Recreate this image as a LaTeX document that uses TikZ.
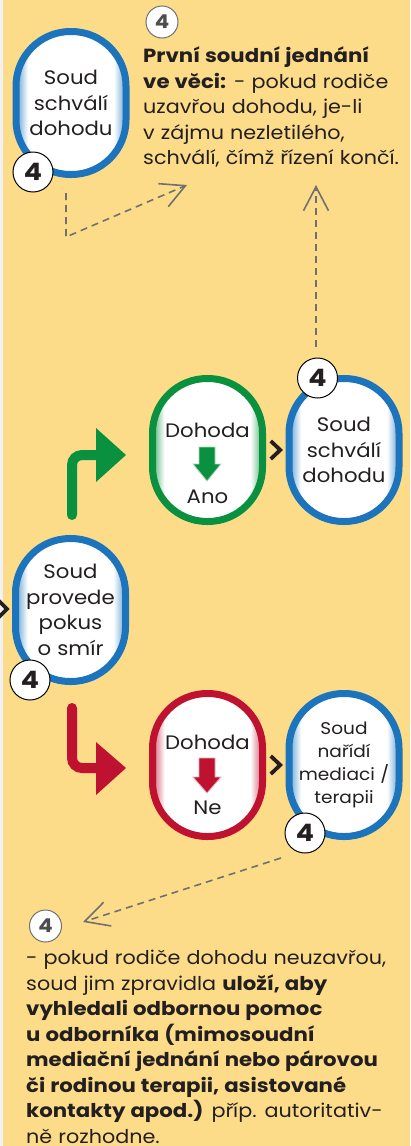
\documentclass[tikz,border=0pt]{standalone}
\usepackage{fontspec}
\setmainfont{Poppins}[FakeStretch=1.09, WordSpace=1.1,
  BoldFeatures={FakeStretch=1.12}]
\usetikzlibrary{arrows.meta,calc}

\definecolor{bgyellow}{HTML}{FDDC89}
\definecolor{strip}{HTML}{F1F1F4}
\definecolor{capblue}{HTML}{1C75BC}
\definecolor{capgreen}{HTML}{0A9140}
\definecolor{capred}{HTML}{BF1230}
\definecolor{ink}{HTML}{231F20}
\definecolor{dashgray}{HTML}{707070}
\definecolor{badgegray}{HTML}{4D4D4D}

% soft inner rim of the capsules: tinted at the sides, white in the middle
\pgfdeclarehorizontalshading{blueedge}{100bp}{color(0bp)=(capblue!50!white); color(26.5bp)=(capblue!50!white); color(30.5bp)=(white); color(69.5bp)=(white); color(73.5bp)=(capblue!50!white); color(100bp)=(capblue!50!white)}
\pgfdeclarehorizontalshading{greenedge}{100bp}{color(0bp)=(capgreen!50!white); color(26.5bp)=(capgreen!50!white); color(30.5bp)=(white); color(69.5bp)=(white); color(73.5bp)=(capgreen!50!white); color(100bp)=(capgreen!50!white)}
\pgfdeclarehorizontalshading{rededge}{100bp}{color(0bp)=(capred!50!white); color(26.5bp)=(capred!50!white); color(30.5bp)=(white); color(69.5bp)=(white); color(73.5bp)=(capred!50!white); color(100bp)=(capred!50!white)}

\begin{document}
\begin{tikzpicture}[x=1pt,y=-1pt,
  capsule/.style={draw=#1, line width=7pt, rounded corners=54.5pt,
    minimum width=110pt, minimum height=143pt, inner sep=0pt,
    align=center, text=ink, font=\fontsize{19.5}{25.5}\selectfont},
  capB/.style={capsule=capblue, shading=blueedge},
  capG/.style={capsule=capgreen, shading=greenedge},
  capR/.style={capsule=capred, shading=rededge},
  captext/.style={text=ink, inner sep=0pt, font=\fontsize{19.5}{25.5}\selectfont},
  badge/.style={circle, draw=black, line width=1pt, fill=white,
    minimum size=40pt, inner sep=0pt, text=ink,
    font=\bfseries\fontsize{24}{24}\selectfont},
  graybadge/.style={circle, draw=dashgray, line width=1pt, fill=white,
    minimum size=32pt, inner sep=0pt, text=badgegray,
    font=\bfseries\fontsize{19}{19}\selectfont},
  chevron/.style={draw=ink, line width=3.8pt, line join=miter},
  branch/.style={draw=#1, line width=10pt, line cap=round, rounded corners=10pt},
  hint/.style={draw=dashgray, line width=1.6pt, dash pattern=on 7pt off 5pt,
    -{Straight Barb[length=24pt, width=25pt]}},
  note/.style={anchor=north west, align=left, inner sep=0pt, text=ink,
    font=\fontsize{19}{25.5}\selectfont},
]
\useasboundingbox (0,0) rectangle (410,1146);
\clip (0,0) rectangle (410,1146);

% background
\fill[strip] (0,0) rectangle (3,1146);
\fill[bgyellow] (3,0) rectangle (410,1146);

% ---------- top: court approves the agreement ----------
\node[capB] (schval1) at (71,103) {Soud\\schválí\\dohodu};
\node[badge] (b1) at (33,172) {4};
\node[graybadge] (b2) at (162,22) {4};
\node[note] (txt1) at (143,47) {\textbf{První soudní jednání}\\
  \textbf{ve věci:} - pokud rodiče\\
  uzavřou dohodu, je-li\\
  v zájmu nezletilého,\\
  schválí, čímž řízení končí.};

% ---------- middle: agreement reached ----------
\node[capG] (ano) at (207.5,450) {};
\node[captext] (anoA) at (207.5,430) {Dohoda};
\node[captext] (anoB) at (207.5,497) {Ano};
\fill[capgreen, draw=capgreen!35!white, line width=0.8pt]
  (199,447) -- (215,447) -- (215,464) -- (221,464) -- (207,481)
  -- (193,464) -- (199,464) -- cycle;
\node[capB] (schval2) at (344,450) {Soud\\schválí\\dohodu};
\node[badge] (b3) at (317.5,378) {4};

% ---------- the attempt at reconciliation ----------
\node[capB] (smir) at (70.5,610) {Soud\\provede\\pokus\\o smír};
\node[badge] (b4) at (30,680) {4};

% ---------- lower: no agreement ----------
\node[capR] (ne) at (207.5,765) {};
\node[captext] (neA) at (207.5,742) {Dohoda};
\node[captext] (neB) at (207.5,808) {Ne};
\fill[capred, draw=capred!35!white, line width=0.8pt]
  (199,758) -- (215,758) -- (215,777) -- (221,777) -- (207,793)
  -- (193,777) -- (199,777) -- cycle;
\node[capB, font=\fontsize{17}{22.8}\selectfont] (medi) at (344,765)
  {Soud\\nařídí\\mediaci /\\terapii};
\node[badge] (b5) at (305,833) {4};

\node[graybadge] (b6) at (45.5,926) {4};
\node[note] (txt2) at (26,950) {- pokud rodiče dohodu neuzavřou,\\
  soud jim zpravidla \textbf{uloží, aby}\\
  \textbf{vyhledali odbornou pomoc}\\
  \textbf{u odborníka (mimosoudní}\\
  \textbf{mediační jednání nebo párovou}\\
  \textbf{či rodinou terapii, asistované}\\
  \textbf{kontakty apod.)} příp. autoritativ-\\
  ně rozhodne.};

% ---------- chevrons between the steps ----------
\draw[chevron] ([xshift=-5pt,yshift=9pt]$(ano.east)!0.5!(schval2.west)$)
  -- ([xshift=4.5pt]$(ano.east)!0.5!(schval2.west)$)
  -- ([xshift=-5pt,yshift=-9pt]$(ano.east)!0.5!(schval2.west)$);
\draw[chevron] ([xshift=-5pt,yshift=9pt]$(ne.east)!0.5!(medi.west)$)
  -- ([xshift=4.5pt]$(ne.east)!0.5!(medi.west)$)
  -- ([xshift=-5pt,yshift=-9pt]$(ne.east)!0.5!(medi.west)$);
\coordinate (inL) at (7,609);
\draw[chevron] ([xshift=-10pt,yshift=10pt]inL) -- (inL) -- ([xshift=-10pt,yshift=-10pt]inL);

% ---------- branch arrows ----------
\coordinate (gS) at (72,515);
\coordinate (gK) at (72,455);
\coordinate (gE) at (99,455);
\draw[branch=capgreen] (gS) -- (gK) -- (gE);
\fill[capgreen] (96,428) -- (126,455) -- (96,482) -- cycle;

\coordinate (rS) at (72,708);
\coordinate (rK) at (72,768);
\coordinate (rE) at (99,768);
\draw[branch=capred] (rS) -- (rK) -- (rE);
\fill[capred] (96,742) -- (126,768) -- (96,795) -- cycle;

% ---------- dashed hints to the notes ----------
\coordinate (h1s) at (66,193);
\coordinate (h1k) at (66,237);
\coordinate (h1e) at (187,185);
\draw[hint] (h1s) -- (h1k) -- (h1e);
\coordinate (h2s) at (316,347);
\coordinate (h2e) at (316,185);
\draw[hint] (h2s) -- (h2e);
\coordinate (h3s) at (281,858);
\coordinate (h3e) at (83,922);
\draw[hint] (h3s) -- (h3e);
\end{tikzpicture}
\end{document}
